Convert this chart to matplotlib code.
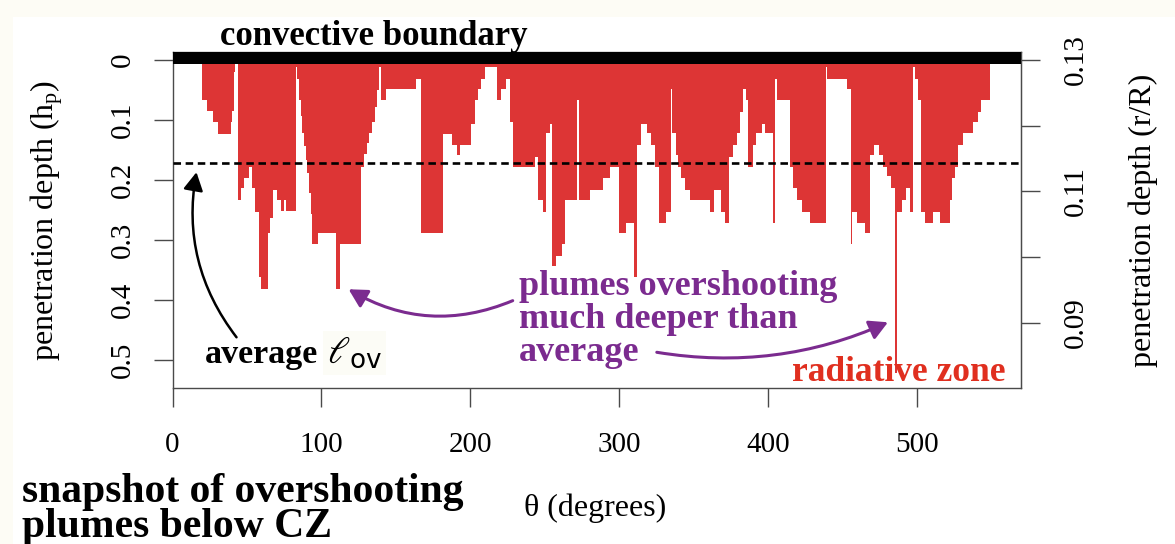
import matplotlib
matplotlib.use("Agg")
import matplotlib.pyplot as plt
import numpy as np

# plume penetration depth (in pressure scale heights) vs angle
theta_start = [
    19.7, 23.1, 27.1, 30.5, 39.0, 40.1, 41.2, 42.1, 43.9, 46.2, 47.7, 51.1, 53.3, 55.1,
    58.0, 59.6, 64.1, 65.2, 67.4, 70.1, 73.0, 74.8, 76.4, 82.7,
    83.8, 84.9, 86.0, 87.2, 88.3, 89.4, 90.5, 91.6, 92.8, 93.4, 97.7, 110.0, 112.7,
    126.8, 128.6, 130.4, 132.2, 134.0, 135.8, 137.6, 138.7, 140.3, 143.2, 163.8,
    167.1, 181.7, 188.0, 191.1, 192.9, 200.8, 203.0, 205.2, 207.5, 209.7, 218.0,
    220.9, 224.3, 226.5, 228.8, 243.3, 245.6, 248.9, 250.7, 253.4, 255.2, 257.4,
    261.9, 263.5, 272.0, 272.9, 280.3, 289.3, 293.7, 300.0, 304.9, 309.8, 312.1,
    315.0, 318.8, 321.7, 324.0, 326.9, 331.8, 334.7, 335.3, 338.0, 339.6, 341.8,
    344.1, 347.4, 360.9, 363.6, 368.8, 371.0, 374.0, 376.7, 378.9, 381.2, 383.4,
    385.2, 386.7, 389.7, 392.3, 395.7, 397.9, 403.5, 404.9, 406.2, 414.7, 417.0,
    419.2, 422.6, 428.2, 439.0, 439.8, 452.8, 455.7, 456.8, 460.0, 465.1, 468.5,
    471.2, 474.8, 477.5, 479.7, 482.4, 485.3, 486.4, 489.8, 492.7, 495.4, 497.6,
    498.9, 500.7, 503.0, 505.2, 510.8, 515.3, 522.1, 523.9, 525.4, 527.7, 531.0,
    537.7, 541.1, 543.3,
]
theta_end = 549.4
depth_hp = [
    0.066, 0.085, 0.104, 0.123, 0.104, 0.085, 0.020, 0.004, 0.233, 0.214, 0.196, 0.179, 0.214, 0.253,
    0.361, 0.381, 0.289, 0.264, 0.217, 0.233, 0.252, 0.233, 0.252, 0.011,
    0.031, 0.067, 0.094, 0.122, 0.144, 0.167, 0.189, 0.222, 0.256, 0.306, 0.289, 0.381, 0.307,
    0.178, 0.156, 0.139, 0.122, 0.103, 0.078, 0.050, 0.011, 0.067, 0.049, 0.031,
    0.289, 0.124, 0.142, 0.158, 0.142, 0.106, 0.067, 0.049, 0.031, 0.011, 0.067,
    0.049, 0.031, 0.103, 0.178, 0.161, 0.233, 0.253, 0.122, 0.106, 0.344, 0.327,
    0.306, 0.233, 0.067, 0.233, 0.216, 0.197, 0.178, 0.289, 0.271, 0.362, 0.142,
    0.106, 0.122, 0.142, 0.178, 0.271, 0.253, 0.049, 0.122, 0.158, 0.178, 0.197,
    0.216, 0.233, 0.253, 0.216, 0.253, 0.271, 0.161, 0.142, 0.122, 0.086, 0.049,
    0.067, 0.178, 0.142, 0.122, 0.106, 0.122, 0.271, 0.031, 0.067, 0.178, 0.214,
    0.233, 0.253, 0.271, 0.011, 0.031, 0.049, 0.307, 0.253, 0.271, 0.289, 0.158,
    0.142, 0.158, 0.178, 0.194, 0.214, 0.522, 0.253, 0.233, 0.214, 0.253, 0.011,
    0.031, 0.067, 0.253, 0.271, 0.253, 0.271, 0.233, 0.197, 0.178, 0.142, 0.122,
    0.103, 0.086, 0.067,
]
avg_depth = 0.171

x_ticks = [0, 100, 200, 300, 400, 500]
y_ticks = [0, 0.1, 0.2, 0.3, 0.4, 0.5]
y_labels = ["0", "0.1", "0.2", "0.3", "0.4", "0.5"]
r_ticks = [0.13, 0.12, 0.11, 0.10, 0.09]
r_labels = ["0.13", "", "0.11", "", "0.09"]

# r/R at the convective boundary and r/R per pressure scale height
R_TOP = 0.13
R_PER_HP = 0.0913

W, H = 1175, 544
RED = "#dd3535"
PURPLE = "#7b2b8f"
TEXT_RED = "#e02f1f"
AXCOL = "#4a4a4a"
SERIF = "Liberation Serif"

plt.rcParams["font.family"] = SERIF
plt.rcParams["mathtext.fontset"] = "custom"
plt.rcParams["mathtext.rm"] = SERIF
plt.rcParams["mathtext.it"] = SERIF + ":italic"


def fx(px):
    return px / W


def fy(py):
    return 1 - py / H


fig = plt.figure(figsize=(W / 100, H / 100), dpi=100)
fig.patch.set_facecolor("#fdfcf5")
fig.patches.append(plt.Rectangle((fx(13), 0), 1, fy(17), transform=fig.transFigure,
                                 facecolor="white", edgecolor="none", zorder=-10))

ax = fig.add_axes([fx(172.5), fy(388.3), (1021 - 172.5) / W, (388.3 - 52) / H])
ax.set_facecolor("white")

xs = np.append(theta_start, theta_end)
ys = np.append(depth_hp, depth_hp[-1])
ax.fill_between(xs, 0, ys, step="post", color=RED, linewidth=0, zorder=2)

ax.axhline(avg_depth, color="black", lw=1.9, dashes=(2.85, 1.75), zorder=3)
ax.axhspan(-0.0133, 0.007, color="black", zorder=4, lw=0)

ax.set_xlim(0, 570)
ax.set_ylim(0.547, -0.0133)

for s in ax.spines.values():
    s.set_color(AXCOL)
    s.set_linewidth(1.0)

ax.set_xticks(x_ticks)
ax.set_yticks(y_ticks)
ax.set_yticklabels(y_labels)
ax.tick_params(axis="both", colors=AXCOL, length=13.5, width=1.0, labelcolor="black",
               labelsize=21)
ax.tick_params(axis="x", pad=18)
ax.tick_params(axis="y", pad=13, labelrotation=90)
for lab in ax.get_yticklabels():
    lab.set_va("center")

mid_y = fy(220)
ax.set_xlabel("θ (degrees)", fontsize=23)
ax.xaxis.set_label_coords(fx(595), fy(508), transform=fig.transFigure)
ax.xaxis.label.set_va("center")
ax.set_ylabel("penetration depth (h$_\\mathrm{p}$)", fontsize=23)
ax.yaxis.set_label_coords(fx(47), mid_y, transform=fig.transFigure)
ax.yaxis.label.set_va("center")

sec = ax.secondary_yaxis("right", functions=(lambda d: R_TOP - R_PER_HP * d,
                                             lambda r: (R_TOP - r) / R_PER_HP))
sec.set_yticks(r_ticks)
sec.set_yticklabels(r_labels)
sec.spines["right"].set_color(AXCOL)
sec.tick_params(axis="y", colors=AXCOL, length=13.5, width=1.0, labelcolor="black",
                labelsize=21, pad=17, labelrotation=90)
for lab in sec.get_yticklabels():
    lab.set_va("center")
sec.set_ylabel("penetration depth (r/R)", fontsize=23)
sec.yaxis.set_label_coords(fx(1143), mid_y, transform=fig.transFigure)
sec.yaxis.label.set_va("center")

# annotations
fig.text(fx(374), fy(45), "convective boundary", ha="center", va="baseline",
         fontsize=25, weight="bold")
fig.text(fx(205), fy(363), "average", ha="left", va="baseline", fontsize=24.5, weight="bold")
fig.text(fx(327), fy(363), r"$\ell_{\mathsf{ov}}$", ha="left", va="baseline", fontsize=27,
         math_fontfamily="dejavuserif",
         bbox=dict(boxstyle="square,pad=0.1", facecolor="#fcfcf6", edgecolor="none"))
for txt, base in [("plumes overshooting", 295), ("much deeper than", 328.5), ("average", 361)]:
    fig.text(fx(519), fy(base), txt, ha="left", va="baseline", fontsize=26,
             weight="bold", color=PURPLE)
fig.text(fx(792), fy(381), "radiative zone", ha="left", va="baseline", fontsize=25.5,
         weight="bold", color=TEXT_RED)
fig.text(fx(22), fy(502), "snapshot of overshooting", ha="left", va="baseline",
         fontsize=30, weight="bold")
fig.text(fx(22), fy(537), "plumes below CZ", ha="left", va="baseline",
         fontsize=30, weight="bold")

head = "-|>,head_length=0.55,head_width=0.3"
ax.annotate("", xy=(16.1, 0.187), xytext=(43.0, 0.462), annotation_clip=False,
            arrowprops=dict(arrowstyle=head, connectionstyle="arc3,rad=-0.22",
                            color="black", lw=1.8, mutation_scale=20, shrinkA=0, shrinkB=0))
ax.annotate("", xy=((349 - 173) / 1.4877, 0.382), xytext=((513 - 173) / 1.4877, 0.401),
            annotation_clip=False,
            arrowprops=dict(arrowstyle=head, connectionstyle="arc3,rad=-0.25",
                            color=PURPLE, lw=2.2, mutation_scale=20, shrinkA=0, shrinkB=0))
ax.annotate("", xy=((888 - 173) / 1.4877, 0.437), xytext=((657 - 173) / 1.4877, 0.487),
            annotation_clip=False,
            arrowprops=dict(arrowstyle=head, connectionstyle="arc3,rad=0.15",
                            color=PURPLE, lw=2.2, mutation_scale=20, shrinkA=0, shrinkB=0))

fig.savefig("out.png", dpi=100, facecolor=fig.get_facecolor())
